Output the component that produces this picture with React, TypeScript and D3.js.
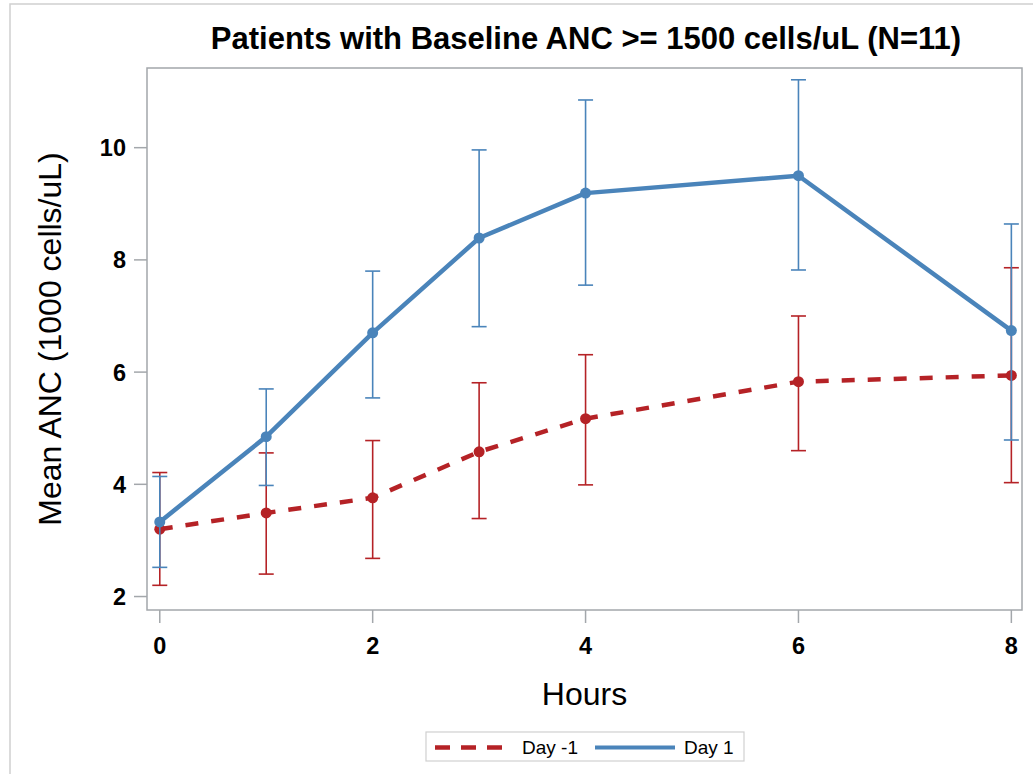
import React from 'react';
import * as d3 from 'd3';

// Mean ANC by hour, with error bar limits
const hours = [0, 1, 2, 3, 4, 6, 8];
const day1Mean = [3.33, 4.85, 6.7, 8.39, 9.19, 9.5, 6.74];
const day1Upper = [4.14, 5.7, 7.8, 9.96, 10.85, 11.21, 8.64];
const day1Lower = [2.52, 3.98, 5.54, 6.81, 7.55, 7.82, 4.79];
const dayM1Mean = [3.2, 3.49, 3.76, 4.58, 5.17, 5.83, 5.94];
const dayM1Upper = [4.21, 4.56, 4.78, 5.81, 6.31, 7.0, 7.86];
const dayM1Lower = [2.2, 2.4, 2.68, 3.39, 3.99, 4.6, 4.03];

const xTicks = [0, 2, 4, 6, 8];
const yTicks = [2, 4, 6, 8, 10];

const BLUE = '#4a84ba';
const RED = '#b52226';
const AXIS = '#a3a7ab';
const FONT = '"Liberation Sans", Arial, sans-serif';

const W = 1033;
const H = 774;
const plot = { left: 147, right: 1022, top: 68, bottom: 610 };

const x = d3.scaleLinear().domain([-0.12, 8.1]).range([plot.left, plot.right]);
const y = d3.scaleLinear().domain([1.76, 11.42]).range([plot.bottom, plot.top]);

type Series = {
  name: string;
  color: string;
  dash: string | undefined;
  mean: number[];
  upper: number[];
  lower: number[];
};

const series: Series[] = [
  { name: 'Day -1', color: RED, dash: '13,13', mean: dayM1Mean, upper: dayM1Upper, lower: dayM1Lower },
  { name: 'Day 1', color: BLUE, dash: undefined, mean: day1Mean, upper: day1Upper, lower: day1Lower },
];

const line = d3
  .line<number>()
  .x((_, i) => x(hours[i]))
  .y((d) => y(d));

const cap = 7.5;

export default function App() {
  return (
    <svg
      width={W}
      height={H}
      style={{ position: 'absolute', left: 0, top: 0, background: '#fff' }}
      fontFamily={FONT}
    >
      <rect x={10} y={4} width={W + 20} height={H + 20} fill="none" stroke="#d0d0d0" strokeWidth={1.5} />

      <text x={586} y={49} textAnchor="middle" fontSize={31} fontWeight="bold" fill="#000">
        Patients with Baseline ANC &gt;= 1500 cells/uL (N=11)
      </text>

      {/* frame */}
      <rect
        x={plot.left}
        y={plot.top}
        width={plot.right - plot.left}
        height={plot.bottom - plot.top}
        fill="none"
        stroke={AXIS}
        strokeWidth={1.5}
      />

      {/* y axis */}
      {yTicks.map((t) => (
        <g key={'y' + t}>
          <line x1={134} x2={plot.left} y1={y(t)} y2={y(t)} stroke={AXIS} strokeWidth={1.5} />
          <text x={126} y={y(t) + 8.5} textAnchor="end" fontSize={23.5} fontWeight="bold" fill="#000">
            {t}
          </text>
        </g>
      ))}
      <text
        transform={`translate(61,${(plot.top + plot.bottom) / 2}) rotate(-90)`}
        textAnchor="middle"
        fontSize={32}
        fill="#000"
      >
        Mean ANC (1000 cells/uL)
      </text>

      {/* x axis */}
      {xTicks.map((t) => (
        <g key={'x' + t}>
          <line x1={x(t)} x2={x(t)} y1={plot.bottom} y2={623} stroke={AXIS} strokeWidth={1.5} />
          <text x={x(t)} y={654} textAnchor="middle" fontSize={23.5} fontWeight="bold" fill="#000">
            {t}
          </text>
        </g>
      ))}
      <text x={(plot.left + plot.right) / 2} y={705} textAnchor="middle" fontSize={32} fill="#000">
        Hours
      </text>

      {/* series */}
      {series.map((s) => (
        <g key={s.name}>
          {hours.map((h, i) => (
            <g key={h} stroke={s.color} strokeWidth={1.6}>
              <line x1={x(h)} x2={x(h)} y1={y(s.upper[i])} y2={y(s.lower[i])} />
              <line x1={x(h) - cap} x2={x(h) + cap} y1={y(s.upper[i])} y2={y(s.upper[i])} />
              <line x1={x(h) - cap} x2={x(h) + cap} y1={y(s.lower[i])} y2={y(s.lower[i])} />
            </g>
          ))}
          <path
            d={line(s.mean) || ''}
            fill="none"
            stroke={s.color}
            strokeWidth={4.5}
            strokeDasharray={s.dash}
            strokeLinejoin="round"
          />
          {hours.map((h, i) => (
            <circle key={h} cx={x(h)} cy={y(s.mean[i])} r={5.5} fill={s.color} />
          ))}
        </g>
      ))}

      {/* legend */}
      <rect x={426} y={732} width={318} height={29} fill="#fff" stroke="#d0d0d0" strokeWidth={1.2} />
      <line x1={435} x2={502} y1={747.5} y2={747.5} stroke={RED} strokeWidth={4.5} strokeDasharray="15,11" />
      <text x={522} y={754} fontSize={19} fill="#000">
        Day -1
      </text>
      <line x1={595} x2={675} y1={747.5} y2={747.5} stroke={BLUE} strokeWidth={4} />
      <text x={684} y={754} fontSize={19} fill="#000">
        Day 1
      </text>
    </svg>
  );
}
